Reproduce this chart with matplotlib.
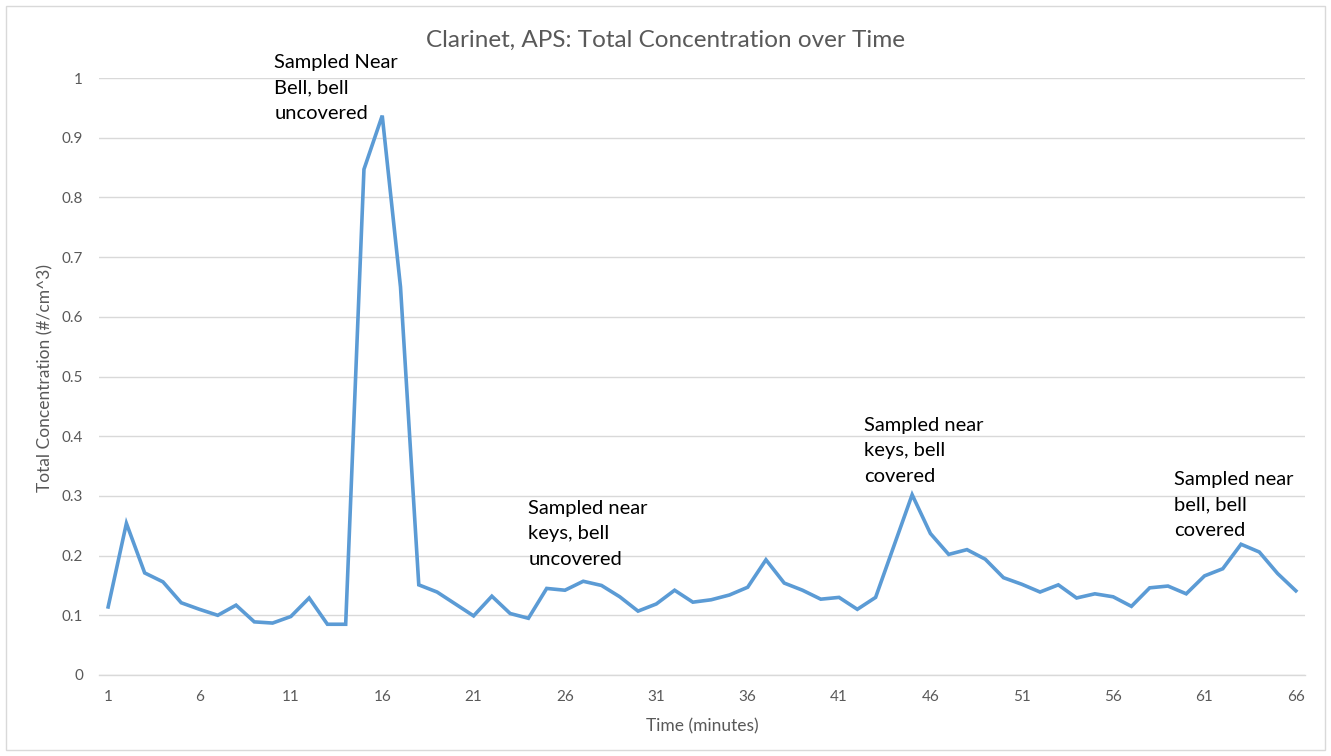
import matplotlib
matplotlib.use("Agg")
import matplotlib.pyplot as plt
from matplotlib.patches import Rectangle

plt.rcParams['font.family'] = ['Lato', 'DejaVu Sans']

minutes = list(range(1, 67))
concentration = [
    0.114, 0.254, 0.171, 0.156, 0.121, 0.110, 0.100, 0.117, 0.089, 0.087,
    0.098, 0.129, 0.085, 0.085, 0.847, 0.937, 0.650, 0.151, 0.139, 0.119,
    0.099, 0.132, 0.103, 0.095, 0.145, 0.142, 0.157, 0.150, 0.131, 0.107,
    0.119, 0.142, 0.122, 0.126, 0.134, 0.147, 0.193, 0.154, 0.142, 0.127,
    0.130, 0.110, 0.130, 0.216, 0.302, 0.237, 0.202, 0.210, 0.194, 0.163,
    0.152, 0.139, 0.151, 0.129, 0.136, 0.131, 0.115, 0.146, 0.149, 0.136,
    0.166, 0.178, 0.219, 0.206, 0.170, 0.141,
]
x_ticks = [1, 6, 11, 16, 21, 26, 31, 36, 41, 46, 51, 56, 61, 66]
y_ticks = [0, 0.1, 0.2, 0.3, 0.4, 0.5, 0.6, 0.7, 0.8, 0.9, 1]
y_tick_labels = ["0", "0.1", "0.2", "0.3", "0.4", "0.5", "0.6", "0.7", "0.8", "0.9", "1"]
notes = [
    "Sampled Near\nBell, bell\nuncovered",
    "Sampled near\nkeys, bell\nuncovered",
    "Sampled near\nkeys, bell\ncovered",
    "Sampled near\nbell, bell\ncovered",
]
note_x = [10.1, 24.0, 42.35, 59.35]
note_y = [1.040, 0.293, 0.432, 0.341]

title = "Clarinet, APS: Total Concentration over Time"
xlabel = "Time (minutes)"
ylabel = "Total Concentration (#/cm^3)"

W, H = 1331, 756
fig = plt.figure(figsize=(W / 100, H / 100), dpi=100)
ax = fig.add_axes([99 / W, 1 - 675 / H, (1305 - 99) / W, (675 - 78) / H])

gray = "#595959"
grid = "#D9D9D9"

ax.plot(minutes, concentration, color="#5B9BD5", linewidth=2.6, solid_joinstyle="miter")
ax.set_xlim(0.5, 66.5)
ax.set_ylim(0, 1)
ax.set_xticks(x_ticks)
ax.set_xticklabels([str(t) for t in x_ticks])
ax.set_yticks(y_ticks)
ax.set_yticklabels(y_tick_labels)
ax.tick_params(axis="both", length=0, colors=gray, labelsize=11)
ax.tick_params(axis="y", pad=11.5)
ax.tick_params(axis="x", pad=11)
ax.grid(axis="y", color=grid, linewidth=1.0)
ax.set_axisbelow(True)
for s in ["top", "right", "left"]:
    ax.spines[s].set_visible(False)
ax.spines["bottom"].set_color(grid)
ax.spines["bottom"].set_linewidth(1.0)

fig.text(702 / W, 1 - 726 / H, xlabel, ha="center", va="center", color=gray, fontsize=12.5)
fig.text(45 / W, 1 - 378 / H, ylabel, ha="center", va="center", rotation=90,
         color=gray, fontsize=12.5)
fig.text(665 / W, 1 - 40 / H, title, ha="center", va="center", color=gray, fontsize=17.5)

for t, xv, yv in zip(notes, note_x, note_y):
    ax.text(xv, yv, t, ha="left", va="top", fontsize=14.5, color="black", linespacing=1.6,
            clip_on=False)

fig.patches.append(Rectangle((6 / W, 6 / H), (W - 12) / W, (H - 12) / H,
                             transform=fig.transFigure, fill=False,
                             edgecolor=grid, linewidth=1.0))

fig.savefig("out.png", dpi=100)
